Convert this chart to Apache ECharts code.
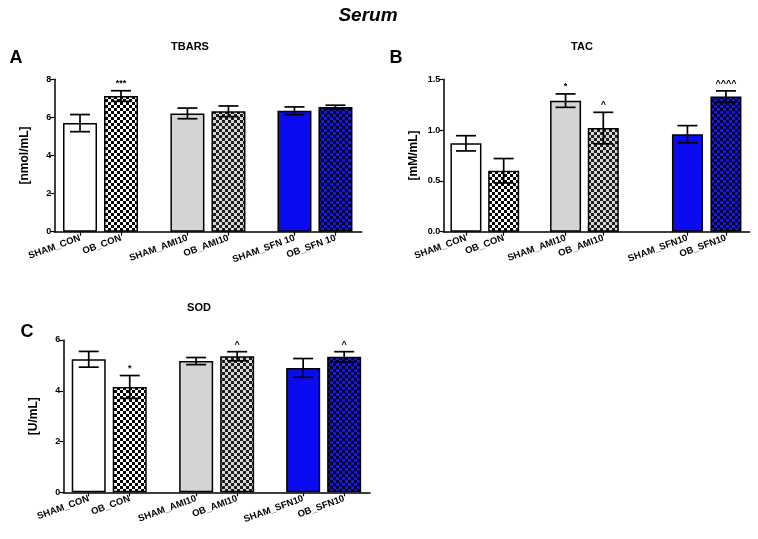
<!DOCTYPE html>
<html>
<head>
<meta charset="utf-8">
<script src="https://cdn.jsdelivr.net/npm/echarts@6/dist/echarts.min.js"></script>
<style>
body{margin:0;background:#fff}
#chart{width:758px;height:539px}
</style>
</head>
<body>
<div id="chart"></div>
<script>
// values (mean, SEM)
var labelsA = ['SHAM_CON', 'OB_CON', 'SHAM_AMI10', 'OB_AMI10', 'SHAM_SFN 10', 'OB_SFN 10'];
var valuesA = [5.70, 7.12, 6.21, 6.32, 6.35, 6.54];
var errorsA = [0.45, 0.28, 0.28, 0.28, 0.20, 0.10];
var marksA = ['', '***', '', '', '', ''];

var labelsB = ['SHAM_CON', 'OB_CON', 'SHAM_AMI10', 'OB_AMI10', 'SHAM_SFN10', 'OB_SFN10'];
var valuesB = [0.87, 0.60, 1.29, 1.02, 0.96, 1.33];
var errorsB = [0.075, 0.12, 0.066, 0.155, 0.084, 0.056];
var marksB = ['', '', '*', '^', '', '^^^^'];

var labelsC = ['SHAM_CON', 'OB_CON', 'SHAM_AMI10', 'OB_AMI10', 'SHAM_SFN10', 'OB_SFN10'];
var valuesC = [5.24, 4.15, 5.17, 5.36, 4.90, 5.34];
var errorsC = [0.31, 0.45, 0.14, 0.18, 0.37, 0.20];
var marksC = ['', '*', '', '^', '', '^'];

// bar slots along the x axis (groups of two with a gap)
var slotsAC = [0, 1, 2.62, 3.62, 5.23, 6.23];
var slotsB = [0, 1, 2.64, 3.64, 5.87, 6.89];

function checker(c1, c2, s) {
    var cv = document.createElement('canvas');
    cv.width = cv.height = s * 2;
    var ctx = cv.getContext('2d');
    ctx.fillStyle = c1;
    ctx.fillRect(0, 0, s * 2, s * 2);
    ctx.fillStyle = c2;
    ctx.fillRect(0, 0, s, s);
    ctx.fillRect(s, s, s, s);
    return {image: cv, repeat: 'repeat'};
}

var fills = [
    '#ffffff',
    checker('#ffffff', '#000000', 3),
    '#d4d4d4',
    checker('#d8d8d8', '#1e1e1e', 3),
    '#0b0bf2',
    checker('#1818d8', '#00002e', 3)
];

var chart = echarts.init(document.getElementById('chart'));

function xAxis(grid, slots, labels, min, max) {
    return {
        type: 'value', gridIndex: grid, min: min, max: max,
        axisLine: {show: true, onZero: false, lineStyle: {color: '#000', width: 1.5}},
        axisTick: {show: true, customValues: slots, length: 4, lineStyle: {color: '#000', width: 1.2}},
        axisLabel: {
            customValues: slots, rotate: 20, margin: 6,
            color: '#000', fontWeight: 'bold', fontSize: 9.5, fontFamily: 'Arial',
            formatter: function (v) {
                for (var i = 0; i < slots.length; i++) {
                    if (Math.abs(slots[i] - v) < 1e-6) return labels[i];
                }
                return '';
            }
        },
        splitLine: {show: false}
    };
}

function yAxis(grid, max, interval, name, digits) {
    return {
        type: 'value', gridIndex: grid, min: 0, max: max, interval: interval,
        name: name, nameLocation: 'middle', nameGap: 24,
        nameTextStyle: {color: '#000', fontWeight: 'bold', fontSize: 12, fontFamily: 'Arial'},
        axisLine: {show: true, onZero: false, lineStyle: {color: '#000', width: 1.5}},
        axisTick: {show: true, length: 4, lineStyle: {color: '#000', width: 1.2}},
        axisLabel: {
            color: '#000', fontWeight: 'bold', fontSize: 9, fontFamily: 'Arial', margin: 3,
            formatter: function (v) { return v.toFixed(digits); }
        },
        splitLine: {show: false}
    };
}

function bars(idx, slots, values, width) {
    return {
        type: 'bar', xAxisIndex: idx, yAxisIndex: idx, barWidth: width,
        itemStyle: {borderColor: '#000', borderWidth: 1.5},
        data: slots.map(function (s, i) {
            return {value: [s, values[i]], itemStyle: {color: fills[i]}};
        }),
        animation: false
    };
}

function errs(idx, slots, values, errors, marks, cap) {
    return {
        type: 'custom', xAxisIndex: idx, yAxisIndex: idx, z: 5,
        data: slots.map(function (s, i) { return [s, values[i], errors[i]]; }),
        renderItem: function (params, api) {
            var x = api.value(0), y = api.value(1), e = api.value(2);
            var hi = api.coord([x, y + e]);
            var lo = api.coord([x, y - e]);
            var ls = {stroke: '#000', lineWidth: 1.7};
            var children = [
                {type: 'line', shape: {x1: hi[0], y1: hi[1], x2: lo[0], y2: lo[1]}, style: ls},
                {type: 'line', shape: {x1: hi[0] - cap, y1: hi[1], x2: hi[0] + cap, y2: hi[1]}, style: ls},
                {type: 'line', shape: {x1: lo[0] - cap, y1: lo[1], x2: lo[0] + cap, y2: lo[1]}, style: ls}
            ];
            var m = marks[params.dataIndex];
            if (m) {
                children.push({
                    type: 'text', x: hi[0], y: hi[1] - 3,
                    style: {text: m, fill: '#000', font: 'bold 9px Arial', align: 'center', verticalAlign: 'bottom'}
                });
            }
            return {type: 'group', children: children};
        },
        animation: false
    };
}

function label(text, x, y, font) {
    return {type: 'text', x: x, y: y, style: {text: text, fill: '#000', font: font, align: 'center', verticalAlign: 'middle'}};
}

var option = {
    backgroundColor: '#fff',
    animation: false,
    graphic: [
        label('Serum', 368, 16, 'italic bold 19px Arial'),
        label('A', 16, 58, 'bold 18px Arial'),
        label('B', 396, 58, 'bold 18px Arial'),
        label('C', 27, 332, 'bold 18px Arial'),
        label('TBARS', 190, 47, 'bold 11px Arial'),
        label('TAC', 582, 47, 'bold 11px Arial'),
        label('SOD', 199, 308, 'bold 11px Arial')
    ],
    grid: [
        {left: 54.3, top: 79.3, width: 307.4, height: 152.4},
        {left: 443.3, top: 79.3, width: 306.4, height: 152.4},
        {left: 63.3, top: 340, width: 306.7, height: 152.3}
    ],
    xAxis: [
        xAxis(0, slotsAC, labelsA, -0.627, 6.87),
        xAxis(1, slotsB, labelsB, -0.60, 7.52),
        xAxis(2, slotsAC, labelsC, -0.62, 6.86)
    ],
    yAxis: [
        yAxis(0, 8, 2, '[nmol/mL]', 0),
        yAxis(1, 1.5, 0.5, '[mM/mL]', 1),
        yAxis(2, 6, 2, '[U/mL]', 0)
    ],
    series: [
        bars(0, slotsAC, valuesA, 34),
        errs(0, slotsAC, valuesA, errorsA, marksA, 10),
        bars(1, slotsB, valuesB, 31),
        errs(1, slotsB, valuesB, errorsB, marksB, 10),
        bars(2, slotsAC, valuesC, 34),
        errs(2, slotsAC, valuesC, errorsC, marksC, 10)
    ]
};

chart.setOption(option);
</script>
</body>
</html>
